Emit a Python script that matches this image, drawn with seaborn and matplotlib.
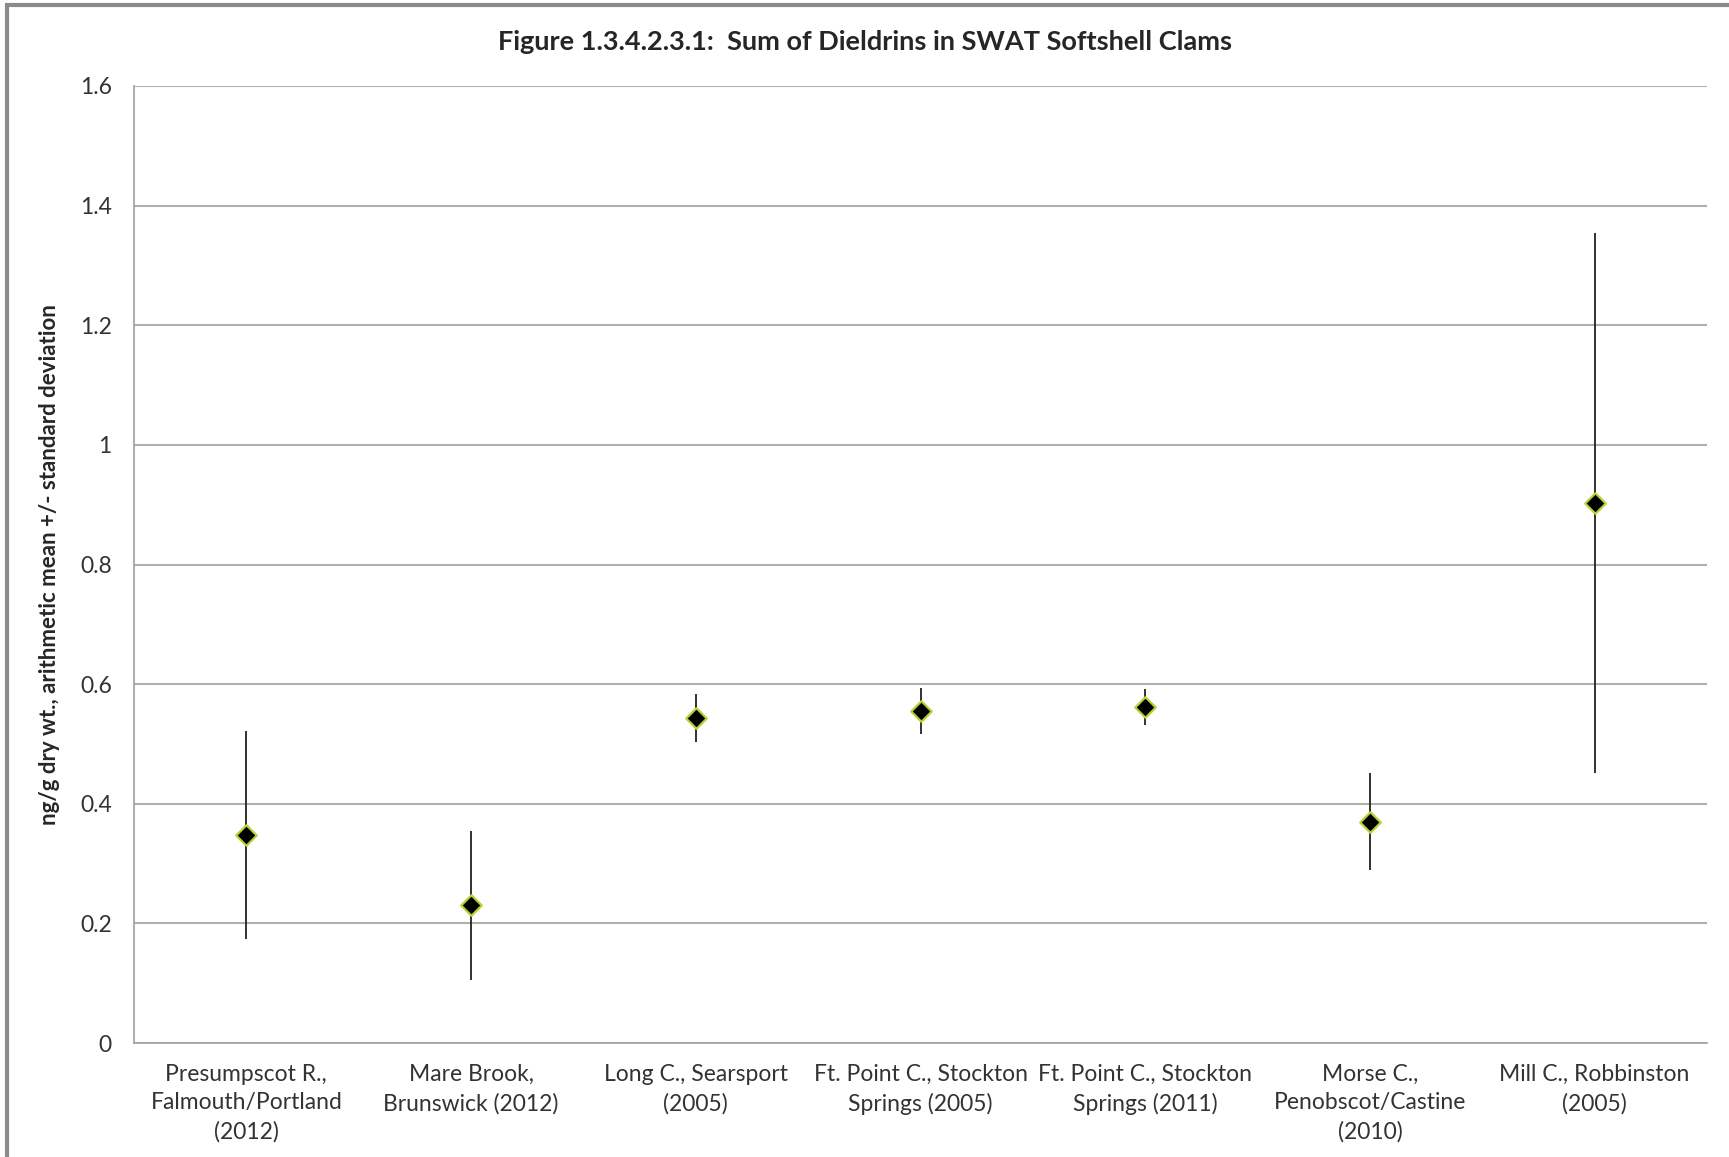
import numpy as np
import matplotlib
matplotlib.use("Agg")
from matplotlib import pyplot as plt
from matplotlib.patches import Rectangle
import seaborn as sns

sites = ["Presumpscot R.,\nFalmouth/Portland\n(2012)",
         "Mare Brook,\nBrunswick (2012)",
         "Long C., Searsport\n(2005)",
         "Ft. Point C., Stockton\nSprings (2005)",
         "Ft. Point C., Stockton\nSprings (2011)",
         "Morse C.,\nPenobscot/Castine\n(2010)",
         "Mill C., Robbinston\n(2005)"]
means = [0.348, 0.230, 0.544, 0.555, 0.562, 0.370, 0.903]
sds = [0.174, 0.125, 0.040, 0.038, 0.030, 0.081, 0.452]
y_ticks = [0, 0.2, 0.4, 0.6, 0.8, 1, 1.2, 1.4, 1.6]
y_tick_labels = ["0", "0.2", "0.4", "0.6", "0.8", "1", "1.2", "1.4", "1.6"]

sns.set_style("white")
plt.rcParams["font.family"] = ["Lato", "DejaVu Sans"]

fig = plt.figure(figsize=[17.29, 11.57], dpi=100)
ax = fig.add_axes([134 / 1729, 1 - 1043 / 1157, (1707 - 134) / 1729, (1043 - 86) / 1157])

pos = np.arange(len(sites))
ax.errorbar(pos, means, yerr=sds, fmt="none", ecolor="#222222", elinewidth=1.3, capsize=0, zorder=2)
sns.scatterplot(x=pos, y=means, marker="D", s=110, color="black", edgecolor="#b5d335",
                linewidth=1.6, ax=ax, zorder=3)

ax.set_xlim(-0.5, len(sites) - 0.5)
ax.set_ylim(0, 1.6)
ax.set_yticks(y_ticks)
ax.set_yticklabels(y_tick_labels, fontsize=16.5, color="#333333")
ax.yaxis.grid(True, color="#b0b0b0", linewidth=1.5)
ax.set_axisbelow(True)

# category labels centred, tick marks on the boundaries (Excel style)
ax.set_xticks(np.arange(-0.5, len(sites), 1.0))
ax.set_xticklabels([])
ax.set_xticks(pos, minor=True)
ax.set_xticklabels(sites, minor=True, fontsize=16.5, color="#333333", linespacing=1.45)
ax.tick_params(axis="x", which="major", direction="out", length=9, color="#a0a0a0", width=1.2)
ax.tick_params(axis="x", which="minor", length=0, pad=15)
ax.tick_params(axis="y", direction="out", length=7, color="#a0a0a0", width=1.2, pad=9)

for side in ["top", "right"]:
    ax.spines[side].set_visible(False)
for side in ["left", "bottom"]:
    ax.spines[side].set_color("#a0a0a0")
    ax.spines[side].set_linewidth(1.2)

ax.set_ylabel("ng/g dry wt., arithmetic mean +/- standard deviation", fontsize=16,
              fontweight="bold", labelpad=14)
fig.suptitle("Figure 1.3.4.2.3.1:  Sum of Dieldrins in SWAT Softshell Clams", y=1 - 42 / 1157,
             va="center", fontsize=19.5, fontweight="bold")

fig.patches.append(Rectangle((0.004, -0.01), 1.1, 1.006, transform=fig.transFigure,
                             fill=False, edgecolor="#8a8a8a", linewidth=3))

fig.savefig("out.png", dpi=100)
